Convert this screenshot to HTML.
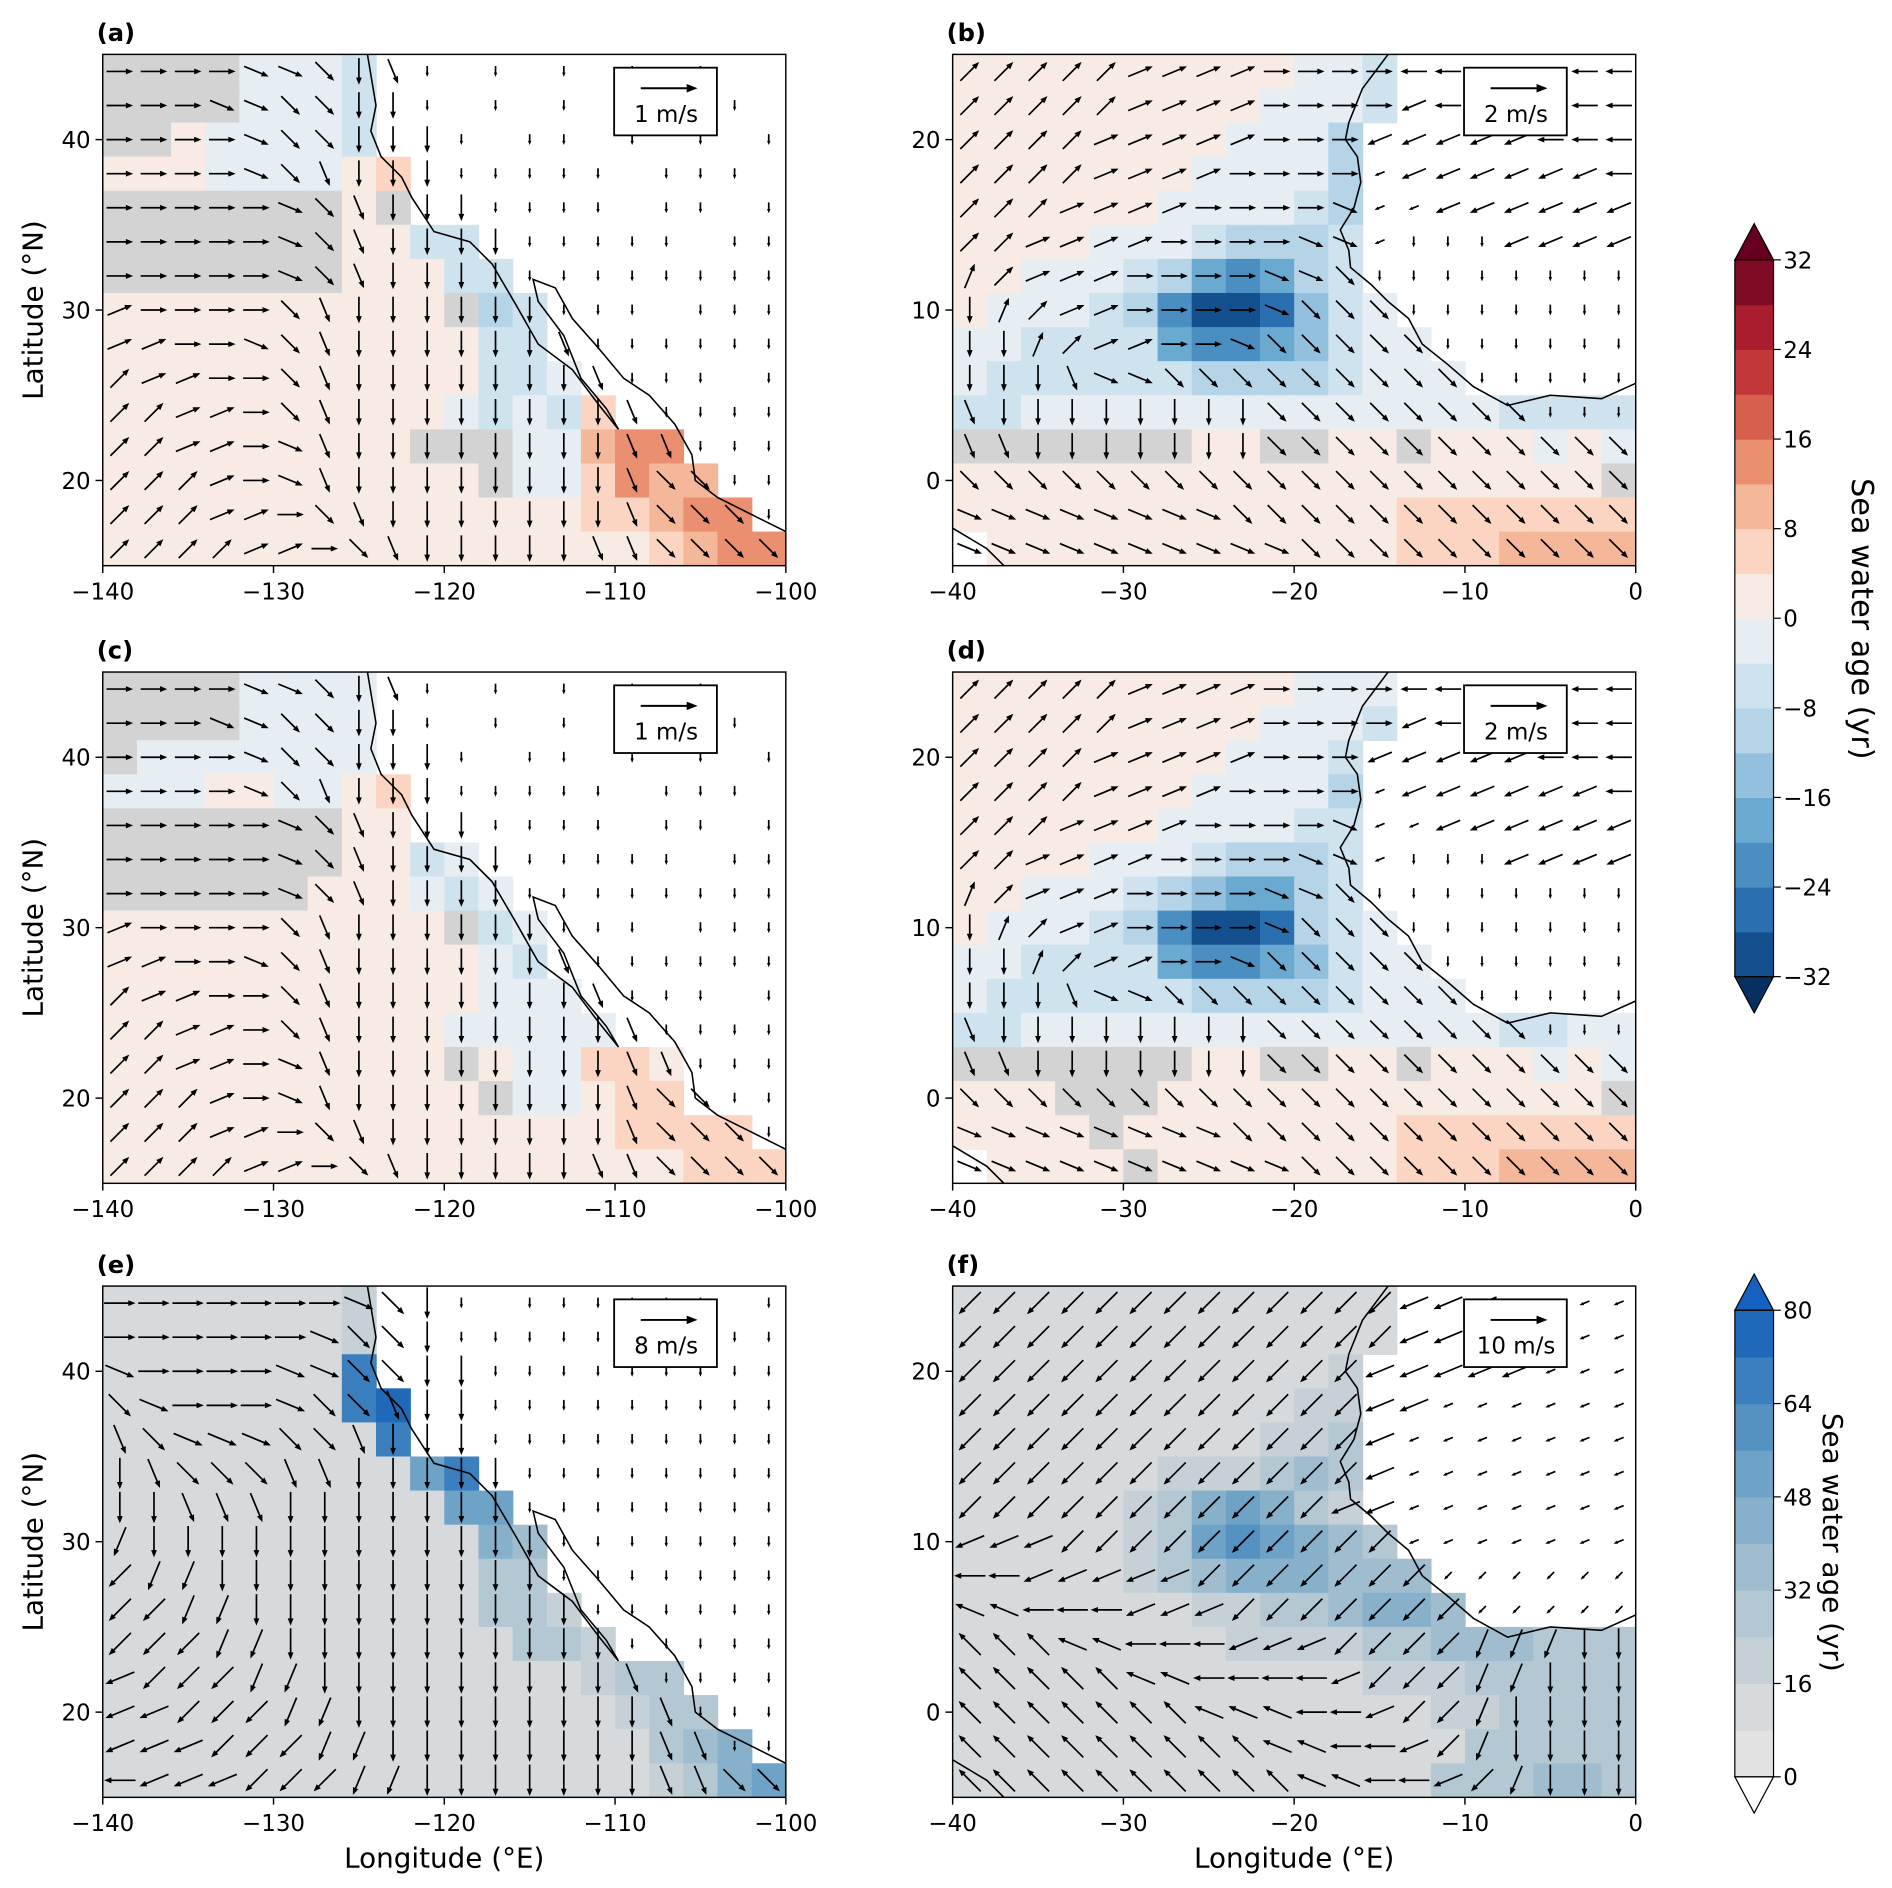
<!DOCTYPE html>
<html><head><meta charset="utf-8"><style>
html,body{margin:0;padding:0;background:#fff;}
svg{display:block;font-family:"DejaVu Sans","Liberation Sans",sans-serif;}
</style></head><body>
<svg id="fig" xmlns="http://www.w3.org/2000/svg" width="1892" height="1888" viewBox="0 0 1565 1562" preserveAspectRatio="none">
<rect width="1565" height="1562" fill="#fff"/>
</svg>
<script>
// ---- data: colour level grids (2° cells, rows north->south); '.' = land
const gridA=["gggg1112............","gggg1112............","gga11112............","aaa1111ab...........","gggggggag...........","gggggggaa22.........","gggggggaaa22........","aaaaaaaaaag32.......","aaaaaaaaaaa22.......","aaaaaaaaaaa221......","aaaaaaaaaa1212b.....","aaaaaaaaaggg11cdd...","aaaaaaaaaaag11bdcc..","aaaaaaaaaaaaaabbcdd.","aaaaaaaaaaaaaaaabcdd"];
const gridC=["gggg1111............","gggg1111............","g1111111............","111aa11ab...........","gggggggaa...........","gggggggaa21.........","ggggggaaa121........","aaaaaaaaaag21.......","aaaaaaaaaaa12.......","aaaaaaaaaaa111......","aaaaaaaaaa11111.....","aaaaaaaaaaga11bba...","aaaaaaaaaaag11abb...","aaaaaaaaaaaaaaabbbb.","aaaaaaaaaaaaaaaaabbb"];
const gridB=["aaaaaaaaaa112.......","aaaaaaaaa1112.......","aaaaaaaa1113........","aaaaaaa11113........","aaaaaa111123........","aaaa11123332........","aa1112356532........","a111236887421.......","11222256654211......","122222233332111.....","22111111111111112222","gggggggaaggaagaaa1a1","aaaaaaaaaaaaaaaaaaag","aaaaaaaaaaaaabbbbbbb",".aaaaaaaaaaaabbbcccc"];
const gridD=["aaaaaaaaaa111.......","aaaaaaaaa1112.......","aaaaaaaa1112........","aaaaaaa11113........","aaaaaa111122........","aaaa11123332........","aa1112345532........","a111236887321.......","11222256654211......","122222233332111.....","22111111111111112211","gggggggaaggaagaaa1a1","aaagggaaaaaaaaaaaaag","aaaagaaaaaaaabbbbbbb",".aaaagaaaaaaabbbcccc"];
const gridE=["11111112............","11111112............","11111118............","111111189...........","111111118...........","11111111168.........","111111111166........","1111111111154.......","1111111111133.......","11111111111332......","111111111111332.....","11111111111111233...","111111111111111233..","1111111111111111345.","11111111111111112356"];
const gridF=["1111111111111.......","1111111111111.......","111111111112........","111111111122........","111111111223........","111111222343........","111112356532........","1111123676543.......","11111234555444......","111111122334554.....","11111111222233444333","11111111111122233333","11111111111111223333","11111111111111133333","11111111111111333443"];
// ---- data: wind arrow directions (A..P = 16 compass dirs from E counter-clockwise; lowercase = weak)
const arrowsA=["AAAAPPOMNm.m.m.m.m..","AAAPPOOMMm.m.m.m.mm.","AAAAPOOMMMm.mm.m.m.m","AAAAPONMMMmmmmm.mmm.","AAAAAPONMMMmmmm.mm.m","AAAAAPONMMMMmmmmm.mm","AAAAAPONMMMMmmmmmmmm","BAAAAONMMMMMMmmm.mmm","BBAAPONMMMMMMNmmmmmm","CBBAAONMMMMMMMNmmm.m","CCBBAONMMMMMMMMNmmmm","CCBBAPNMMMMMMMMNNmmm","CCCBAPNMMMMMMMMNOOmm","CCCBBAONMMMMMMMNOOOm","CCCCBBAONMMMMMNNOOOO"];
const arrowsB=["CCCCCBBBBAAAAIIIIIII","CCCCCBBBBAAAAJIIIIII","CCCCBBBBBAAAJJJJJIII","CCCCBBBBAAAAjJJJJJJI","CCCBBBBAAAAPjjJJJJJJ","CCBBBBAAAAPPjmmmJJJJ","DCBBBAAAAPPOmmmmmmmm","MDCBBAAAAPOOOmmmmmmm","MMDCBBAAPOOOOOmmmmmm","MMMNPPOOOOOOOOOmmmmm","NMMMMMMMMOOOOOOOOmmm","NNMMMMMMMOOOOOOOOOOO","OOOOOOOOOOOOOOOOOOOO","PPPPPPPPOOOOOOOOOOOO","PPPPPPPPPPOOOOOOOOOO"];
const arrowsE=["AAAAAAAPOMm.mmmmmm.m","AAAAAAPOOMmmmmmmmmmm","PAAAAPPOOMMmmmmmmmmm","OPAAAPOONMMmmmmmmmmm","NOPPPOONMMMmmmmmmmmm","MNOOONNMMMMMmmmmmmmm","MMNNNMMMMMMMmmmmmmmm","LMMMMMMMMMMMMmmmmmmm","KLLMMMMMMMMMMmmmmmmm","KKLLMMMMMMMMMMmmmmmm","KKKLLMMMMMMMMMMmmmmm","JKKKLLMMMMMMMMMNmmmm","JJKKKLLMMMMMMMMMNmmm","JJJKKKLLMMMMMMMMNNmm","IJJJKKKLLMMMMMMMNNOO"];
const arrowsF=["KKKKKKKKKKKKKJJJjjjj","KKKKKKKKKKKKKJJJjjjj","KKKKKKKKKKKKJJJJJjjj","KKKKKKKKKKKKJJjjjjjj","KKKKKKKKKKKKJjjjjjjj","KKKKKKKKKKKKJjjjjjjj","KKKKKKKKKKKJJjjjjjjj","JJJKKKKKKKKKKjjjjjjj","IIJJJJJKKKKKKKkkkkkk","HHIIIJJJKKKKKKKkkkkk","GGGHHIIIJJJKKKKLLLMM","GGGGGHHIIIIJKKKLLMMM","GGGGGGGHHHIIJKKLMMMM","GGGGGGGGGHHIIJKLMMMM","GGGGGGGGGGHHIIJKLMMM"];
// ---- coastlines (lon, lat)
const coastNA=[[-124.5,45],[-124,42],[-124.3,40.5],[-123.7,39],[-122.5,37.8],[-121.9,36.6],[-120.6,34.6],[-118.5,34],[-117.2,32.7],[-116.5,31.5],[-115.8,30.3],[-114.5,28],[-112.5,26.5],[-111,24.5],[-109.8,23],[-110.5,24.2],[-112,26],[-113,28.5],[-114.5,30.5],[-114.8,31.8],[-113.5,31.3],[-112.5,29.5],[-111,27.8],[-109.5,26],[-108,25],[-106.5,23.3],[-105.5,21.5],[-105.3,20],[-104,19],[-102,18],[-100,17]];
const coastAF=[[-14.5,25],[-16,23],[-16.8,21],[-17,20],[-16.3,19],[-16.1,17.5],[-16.5,16],[-17.3,14.7],[-16.8,13.5],[-16.7,12.5],[-15.5,11.5],[-14.5,10.5],[-13.3,9.5],[-12.5,8],[-11,6.8],[-9.5,5.5],[-7.5,4.4],[-5,5],[-2,4.8],[0,5.7]];
const coastBR=[[-40,-2.8],[-38,-4],[-37,-5]];
// ---- colour scales
const divLevels=[-32,-28,-24,-20,-16,-12,-8,-4,0,4,8,12,16,20,24,28,32];
const divColors=["#15508e","#2a6fb0","#4b8fc2","#6aa9d0","#92c0dd","#b5d4e8","#cfe3ef","#e6eef4","#f7ebe4","#fbd5c1","#f5b799","#ea8f70","#d6604d","#c2383a","#a91d2e","#800b24"];
const divTicks=[-32,-24,-16,-8,0,8,16,24,32];
const seqLevels=[0,8,16,24,32,40,48,56,64,72,80];
const seqColors=["#e2e2e2","#d6dadd","#c6d1d7","#b4c8d3","#a0bdd0","#87b0cb","#6ea2c6","#5592c2","#3b7fbe","#2068b8"];
const seqTicks=[0,16,32,48,64,80];
const divCode={"1":"#e6eef4","2":"#cfe3ef","3":"#b5d4e8","4":"#92c0dd","5":"#6aa9d0","6":"#4b8fc2","7":"#2a6fb0","8":"#15508e","a":"#f7ebe4","b":"#fbd5c1","c":"#f5b799","d":"#ea8f70","e":"#d6604d","g":"#d3d3d3"};

const NS="http://www.w3.org/2000/svg";
const svg=document.getElementById('fig');
function mk(tag,attrs,parent){const e=document.createElementNS(NS,tag);for(const k in attrs)e.setAttribute(k,attrs[k]);(parent||svg).appendChild(e);return e;}
const W=565,H=423;
const panels=[
 {id:'a',x:85,y:45,lon0:-140,lon1:-100,lat0:15,lat1:45,grid:gridA,arr:arrowsA,scale:'div',coast:[coastNA],key:'1 m/s',xt:[-140,-130,-120,-110,-100],yt:[20,30,40],ylab:true,xlab:false},
 {id:'b',x:788,y:45,lon0:-40,lon1:0,lat0:-5,lat1:25,grid:gridB,arr:arrowsB,scale:'div',coast:[coastAF,coastBR],key:'2 m/s',xt:[-40,-30,-20,-10,0],yt:[0,10,20],ylab:false,xlab:false},
 {id:'c',x:85,y:556,lon0:-140,lon1:-100,lat0:15,lat1:45,grid:gridC,arr:arrowsA,scale:'div',coast:[coastNA],key:'1 m/s',xt:[-140,-130,-120,-110,-100],yt:[20,30,40],ylab:true,xlab:false},
 {id:'d',x:788,y:556,lon0:-40,lon1:0,lat0:-5,lat1:25,grid:gridD,arr:arrowsB,scale:'div',coast:[coastAF,coastBR],key:'2 m/s',xt:[-40,-30,-20,-10,0],yt:[0,10,20],ylab:false,xlab:false},
 {id:'e',x:85,y:1064,lon0:-140,lon1:-100,lat0:15,lat1:45,grid:gridE,arr:arrowsE,scale:'seq',coast:[coastNA],key:'8 m/s',xt:[-140,-130,-120,-110,-100],yt:[20,30,40],ylab:true,xlab:true},
 {id:'f',x:788,y:1064,lon0:-40,lon1:0,lat0:-5,lat1:25,grid:gridF,arr:arrowsF,scale:'seq',coast:[coastAF,coastBR],key:'10 m/s',xt:[-40,-30,-20,-10,0],yt:[0,10,20],ylab:false,xlab:true}
];
function fmt(v){return v<0?'\u2212'+Math.abs(v):String(v);}
panels.forEach(p=>{
  const g=mk('g',{});
  
  
  const xs=lon=>p.x+(lon-p.lon0)/(p.lon1-p.lon0)*W;
  const ys=lat=>p.y+(p.lat1-lat)/(p.lat1-p.lat0)*H;
  const clip=mk('clipPath',{id:'clip-'+p.id},g);
  mk('rect',{x:p.x,y:p.y,width:W,height:H},clip);
  const inner=mk('g',{'clip-path':'url(#clip-'+p.id+')'},g);
  p.grid.forEach((row,r)=>{
    for(let c=0;c<20;c++){
      const ch=row[c]||'.';
      if(ch==='.')continue;
      const col=p.scale==='div'?divCode[ch]:seqColors[+ch];
      const lon=p.lon0+c*2, lat=p.lat1-r*2;
      const cell=mk('rect',{x:xs(lon),y:ys(lat),width:xs(lon+2)-xs(lon)+0.6,height:ys(lat-2)-ys(lat)+0.6,fill:col},inner);
      
      
    }
  });
  p.coast.forEach(cl=>{
    const line=mk('polyline',{points:cl.map(q=>xs(q[0])+','+ys(q[1])).join(' '),fill:'none',stroke:'#000','stroke-width':1.3},inner);
    
    
  });
  p.arr.forEach((row,r)=>{
    for(let c=0;c<20;c++){
      const ch=row[c]||'.';
      if(ch==='.')continue;
      const up=ch.toUpperCase();
      const k=up.charCodeAt(0)-65;
      const ang=k*22.5*Math.PI/180;
      const L=(ch===up)?(p.scale==='seq'?26:22):9;
      const cx=xs(p.lon0+c*2+1), cy=ys(p.lat1-r*2-1);
      const dx=Math.cos(ang)*L/2, dy=-Math.sin(ang)*L/2;
      const x1=cx-dx,y1=cy-dy,x2=cx+dx,y2=cy+dy;
      const ux=Math.cos(ang),uy=-Math.sin(ang),hs=L>10?6:3.5;
      const ag=mk('g',{},inner);
      
      
      mk('line',{x1:x1,y1:y1,x2:x2-ux*hs*0.6,y2:y2-uy*hs*0.6,stroke:'#000','stroke-width':1.4},ag);
      mk('polygon',{points:[x2,y2,x2-ux*hs-uy*hs*0.4,y2-uy*hs+ux*hs*0.4,x2-ux*hs+uy*hs*0.4,y2-uy*hs-ux*hs*0.4].join(','),fill:'#000'},ag);
    }
  });
  mk('rect',{x:p.x,y:p.y,width:W,height:H,fill:'none',stroke:'#000','stroke-width':1.2},g);
  p.xt.forEach(v=>{
    const x=xs(v);
    mk('line',{x1:x,y1:p.y+H,x2:x,y2:p.y+H+6,stroke:'#000','stroke-width':1.2},g);
    const t=mk('text',{x:x,y:p.y+H+28,'text-anchor':'middle','font-size':19},g);
    t.textContent=fmt(v);
    
    
  });
  p.yt.forEach(v=>{
    const y=ys(v);
    mk('line',{x1:p.x-6,y1:y,x2:p.x,y2:y,stroke:'#000','stroke-width':1.2},g);
    const t=mk('text',{x:p.x-10,y:y+7,'text-anchor':'end','font-size':19},g);
    t.textContent=fmt(v);
    
    
  });
  const pl=mk('text',{x:p.x-5,y:p.y-11,'font-size':20,'font-weight':'bold'},g);
  pl.textContent='('+p.id+')';
  
  
  const kg=mk('g',{},g);
  
  
  mk('rect',{x:p.x+423,y:p.y+11,width:85,height:56,fill:'#fff',stroke:'#000','stroke-width':1.5},kg);
  mk('line',{x1:p.x+445,y1:p.y+28,x2:p.x+485,y2:p.y+28,stroke:'#000','stroke-width':1.6},kg);
  mk('polygon',{points:[p.x+492,p.y+28,p.x+483,p.y+24.5,p.x+483,p.y+31.5].join(','),fill:'#000'},kg);
  const kt=mk('text',{x:p.x+466,y:p.y+56,'text-anchor':'middle','font-size':19},kg);
  kt.textContent=p.key;
  if(p.ylab){
    const t=mk('text',{x:0,y:0,'text-anchor':'middle','font-size':23,transform:'translate(35,'+(p.y+H/2)+') rotate(-90)'},g);
    t.textContent='Latitude (\u00b0N)';
    
    
  }
  if(p.xlab){
    const t=mk('text',{x:p.x+W/2,y:1545,'text-anchor':'middle','font-size':23},g);
    t.textContent='Longitude (\u00b0E)';
    
    
  }
});
function colorbar(name,levels,colors,ticks,top,bot,topExt,botExt,title,tx,ty,tfs){
  const g=mk('g',{});
  
  
  const x=1435,w=32,lo=levels[0],hi=levels[levels.length-1];
  const ys=v=>bot-(v-lo)/(hi-lo)*(bot-top);
  for(let i=0;i<colors.length;i++){
    const b=mk('rect',{x:x,y:ys(levels[i+1]),width:w,height:ys(levels[i])-ys(levels[i+1])+0.5,fill:colors[i]},g);
    
    
  }
  mk('polygon',{points:[x,top,x+w,top,x+w/2,top-30].join(','),fill:topExt,stroke:'#000','stroke-width':1},g);
  mk('polygon',{points:[x,bot,x+w,bot,x+w/2,bot+30].join(','),fill:botExt,stroke:'#000','stroke-width':1},g);
  mk('rect',{x:x,y:top,width:w,height:bot-top,fill:'none',stroke:'#000','stroke-width':1},g);
  ticks.forEach(v=>{
    const y=ys(v);
    mk('line',{x1:x+w,y1:y,x2:x+w+6,y2:y,stroke:'#000','stroke-width':1},g);
    const t=mk('text',{x:x+w+8,y:y+7,'font-size':19},g);
    t.textContent=fmt(v);
    
    
  });
  const tt=mk('text',{x:0,y:0,'text-anchor':'middle','font-size':tfs,transform:'translate('+tx+','+ty+') rotate(90)'},g);
  tt.textContent=title;
  
  
}
colorbar('colorbar-anomaly',divLevels,divColors,divTicks,215,808,'#67001f','#053061','Sea water age (yr)',1532,512,25);
colorbar('colorbar-age',seqLevels,seqColors,seqTicks,1084,1470,'#1560c0','#ffffff','Sea water age (yr)',1508,1276,23);
</script>
</body></html>
